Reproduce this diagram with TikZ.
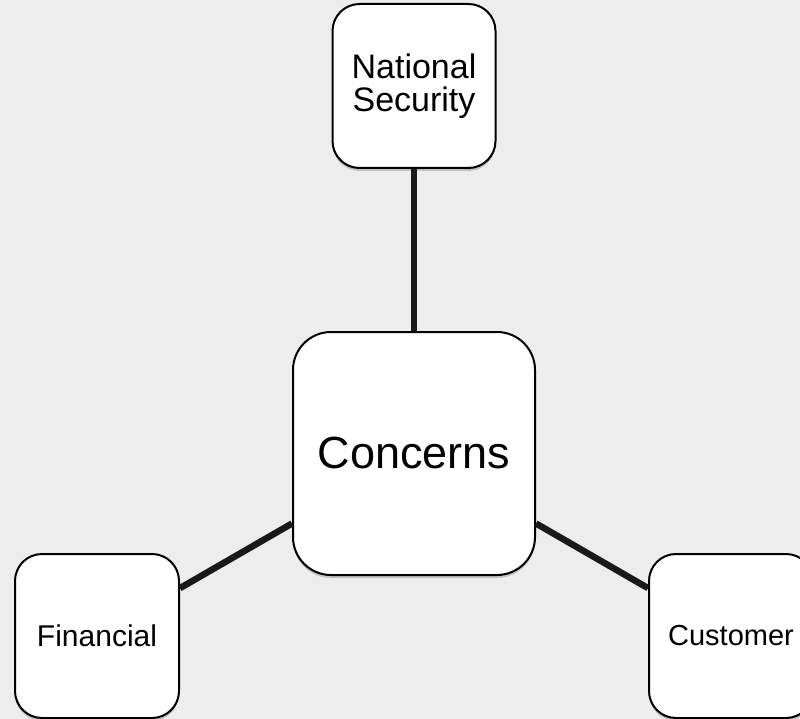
\documentclass[tikz,border=0pt]{standalone}
\usepackage{fontspec}
\setmainfont{Liberation Sans}
\usetikzlibrary{shadows}
\definecolor{bg}{RGB}{237,237,237}
\tikzset{
  box/.style={draw=black, fill=white, line width=2pt, inner sep=0pt, align=center,
    drop shadow={shadow xshift=0pt, shadow yshift=-3pt, opacity=0.18, fill=black}},
  link/.style={draw=black!90, line width=6.5pt}
}
\begin{document}
\begin{tikzpicture}[x=1pt, y=-1pt]
\fill[bg] (0,0) rectangle (800,719);
\useasboundingbox (0,0) rectangle (800,719);
\clip (0,0) rectangle (800,719);
\node[box, minimum width=242pt, minimum height=243pt, rounded corners=38pt,
  font=\fontsize{45}{50}\selectfont] (c) at (414,453.5) {Concerns};
\node[box, minimum width=163pt, minimum height=164pt, rounded corners=27pt,
  font=\fontsize{34}{33}\selectfont] (ns) at (414,86) {National\\Security};
\node[box, minimum width=164pt, minimum height=164pt, rounded corners=27pt,
  font=\fontsize{30}{34}\selectfont] (f) at (97,636) {Financial};
\node[box, minimum width=164pt, minimum height=164pt, rounded corners=27pt,
  font=\fontsize{29}{34}\selectfont] (cu) at (731,636) {Customer};
\draw[link] (ns) -- (c);
\draw[link] (f) -- (c);
\draw[link] (cu) -- (c);
\end{tikzpicture}
\end{document}
